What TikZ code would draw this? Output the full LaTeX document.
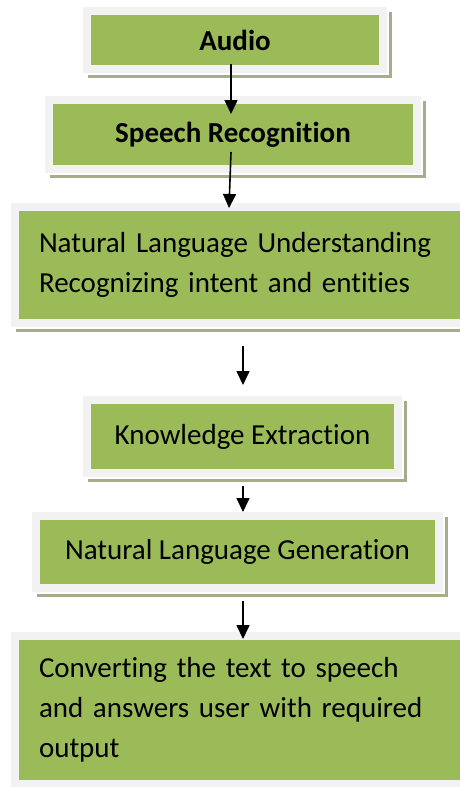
\documentclass[tikz,border=0pt]{standalone}
\usepackage{fontspec}
\setmainfont{Carlito}[Ligatures=NoCommon]
\usetikzlibrary{arrows.meta,positioning}
\definecolor{boxgreen}{HTML}{9BBB59}
\definecolor{boxrim}{HTML}{F2F2F2}
\definecolor{boxshade}{HTML}{A6AD8C}

\begin{document}
\begin{tikzpicture}[x=1pt,y=-1pt,
  font=\fontsize{29}{40}\selectfont,
  blk/.style={fill=boxgreen,draw=boxrim,line width=8pt,inner sep=0pt,
    preaction={fill=boxshade,draw=boxshade,line width=8pt,
      transform canvas={xshift=5pt,yshift=-5pt}},
    preaction={fill=white,draw=white,line width=8pt,
      transform canvas={xshift=2pt,yshift=-2pt}}},
  boldblk/.style={blk,font=\fontsize{29}{40}\selectfont\bfseries},
  txtblk/.style={blk,align=left,inner xsep=24pt,text width=407pt},
  flow/.style={-{Triangle[width=13pt,length=14pt]},line width=1.6pt}]
\useasboundingbox (0,0) rectangle (460,787);
\node[boldblk,minimum width=296pt,minimum height=58pt] (audio) at (235,40) {Audio};
\node[boldblk,minimum width=368pt,minimum height=69pt] (speech) at (233,134.5) {Speech Recognition};
\node[txtblk,minimum height=116pt] (nlu) at (242.5,265)
  {Natural Language Understanding\\Recognizing intent and entities};
\node[blk,minimum width=311pt,minimum height=73pt] (know) at (242.5,436.5) {Knowledge Extraction};
\node[blk,minimum width=403pt,minimum height=72pt] (nlg) at (237.5,552) {Natural Language Generation};
\node[txtblk,minimum height=148pt] (tts) at (242.5,710)
  {Converting the text to speech\\and answers user with required\\output};
% arrows between the stages
\draw[flow] ([shift={(-4,-9)}]audio.south) -- ([shift={(-2,18)}]speech.north);
\draw[flow] ([shift={(-2,-21)}]speech.south) -- ([shift={(-13.5,5)}]nlu.north);
\draw[flow] ([shift={(0.5,19)}]nlu.south) -- ([shift={(0.5,-11)}]know.north);
\draw[flow] ([shift={(0.5,9)}]know.south) -- ([shift={(5.5,0)}]nlg.north);
\draw[flow] ([shift={(5.5,9)}]nlg.south) -- ([shift={(0.5,7)}]tts.north);
\end{tikzpicture}
\end{document}
